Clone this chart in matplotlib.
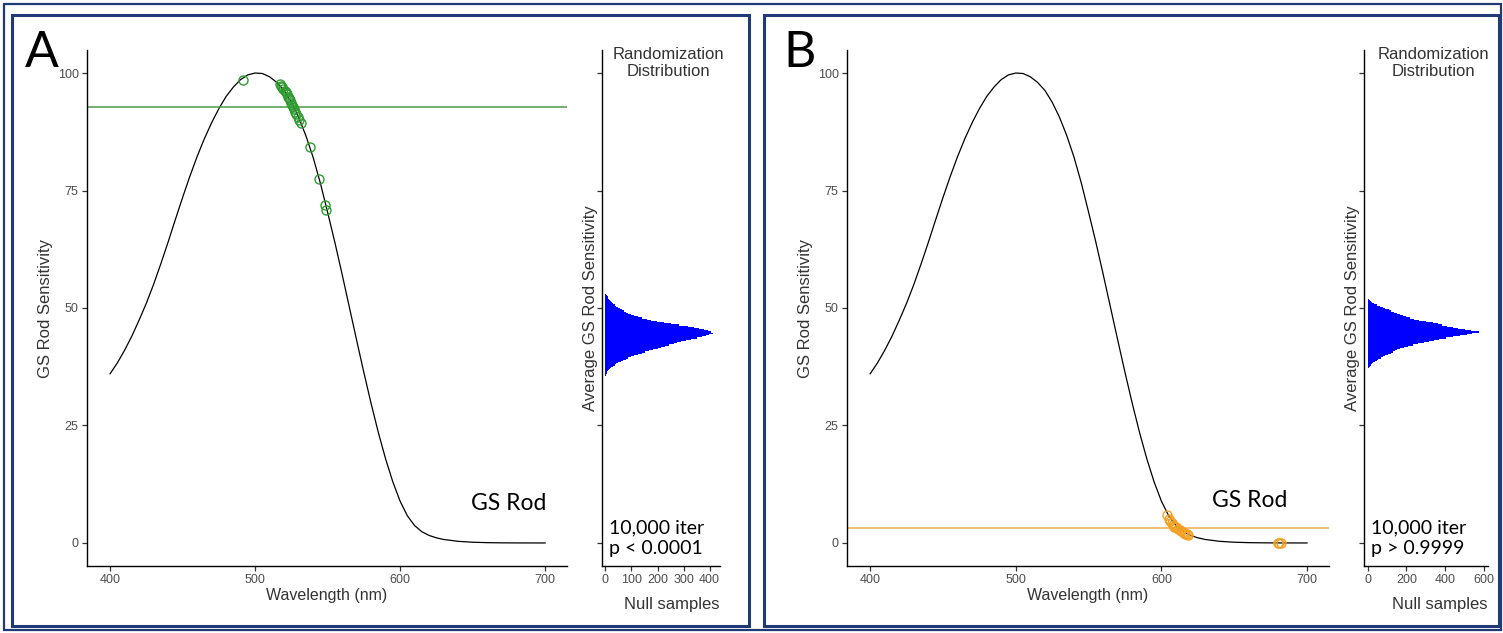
import numpy as np
import matplotlib
matplotlib.use("Agg")
import matplotlib.pyplot as plt
from matplotlib.patches import Rectangle

plt.rcParams['font.family'] = ['Liberation Sans', 'DejaVu Sans']

# rod sensitivity curve (5 nm steps)
wavelength = [400, 405, 410, 415, 420, 425, 430, 435, 440, 445, 450, 455, 460, 465,
              470, 475, 480, 485, 490, 495, 500, 505, 510, 515, 520, 525, 530, 535,
              540, 545, 550, 555, 560, 565, 570, 575, 580, 585, 590, 595, 600, 605,
              610, 615, 620, 625, 630, 640, 650, 660, 670, 680, 690, 700]
sensitivity = [36.0, 38.3, 41.0, 44.0, 47.4, 51.0, 55.0, 59.4, 64.0, 68.8, 73.5, 78.0,
               82.2, 86.0, 89.4, 92.4, 95.0, 97.0, 98.6, 99.6, 100.0, 99.9, 99.2, 98.0,
               96.3, 93.8, 90.6, 86.7, 82.1, 76.6, 70.4, 64.0, 57.2, 50.2, 43.2, 36.3,
               29.7, 23.5, 17.9, 13.0, 8.9, 5.8, 3.7, 2.4, 1.6, 1.1, 0.75, 0.35, 0.16,
               0.07, 0.03, 0.01, 0.005, 0.0]

# panel A observed species
obsA_wl = [491.5, 517.0, 518.0, 518.8, 519.5, 520.3, 521.0, 521.8, 522.5, 523.2, 524.0,
           524.8, 525.5, 526.3, 527.0, 527.8, 528.5, 529.5, 530.5, 531.5, 538.0, 544.0,
           548.3, 549.2]
obsA_sens = [98.5, 97.6, 97.3, 97.0, 96.6, 96.2, 95.9, 95.5, 95.0, 94.6, 94.2, 93.7,
             93.3, 92.7, 92.3, 91.7, 91.3, 90.6, 90.0, 89.3, 84.3, 77.4, 72.0, 70.9]
meanA = 92.8

# panel B observed species
obsB_wl = [603.8, 605.0, 606.0, 607.0, 608.0, 609.0, 610.0, 611.5, 612.5, 613.5, 614.5,
           615.5, 616.5, 617.5, 618.5, 680.0, 681.0, 682.0]
obsB_sens = [5.9, 5.2, 4.6, 4.2, 3.9, 3.5, 3.3, 2.9, 2.7, 2.5, 2.3, 2.2, 2.0, 1.9, 1.8,
             0.02, 0.02, 0.02]
meanB = 3.1

# randomization distributions (bin width 0.25)
bin_width = 0.25
histA_start = 35.5
histA_counts = [2, 3, 5, 6, 9, 12, 16, 22, 28, 36, 42, 50, 58, 66, 78, 88, 97, 110, 124,
                140, 152, 168, 182, 200, 214, 230, 246, 262, 275, 292, 308, 330, 350, 372,
                386, 398, 412, 404, 392, 378, 360, 342, 318, 282, 252, 226, 198, 176, 158,
                140, 124, 110, 98, 88, 78, 70, 62, 55, 48, 42, 36, 30, 25, 20, 16, 13, 10,
                8, 6, 4]
histB_start = 37.0
histB_counts = [3, 6, 10, 16, 22, 30, 37, 46, 56, 67, 80, 92, 104, 118, 130, 142, 152, 168,
                186, 210, 236, 262, 288, 316, 340, 368, 404, 442, 478, 512, 538, 576, 530,
                500, 468, 440, 410, 384, 362, 336, 300, 266, 240, 218, 196, 184, 168, 150,
                136, 122, 110, 92, 78, 62, 46, 34, 24, 16, 10, 5]

W, H = 1503, 633
navy = '#1F3A74'
fig = plt.figure(figsize=(W / 100, H / 100), dpi=100)


def box(l, t, r, b):
    return [l / W, 1 - b / H, (r - l) / W, (b - t) / H]


def style(ax):
    ax.spines['top'].set_visible(False)
    ax.spines['right'].set_visible(False)
    for s in ['left', 'bottom']:
        ax.spines[s].set_linewidth(1.0)
        ax.spines[s].set_color('black')
    ax.tick_params(length=3.5, width=0.9, color='#333333', labelcolor='#4D4D4D',
                   labelsize=9, pad=2.5)
    ax.set_ylim(-4.9, 104.9)
    ax.set_yticks([0, 25, 50, 75, 100])


def main_panel(ax, obs_wl, obs_sens, mean_val, col_pt, col_line):
    style(ax)
    ax.plot(wavelength, sensitivity, color='black', lw=0.9)
    ax.axhline(mean_val, color=col_line, lw=1.1)
    ax.plot(obs_wl, obs_sens, 'o', mfc='none', mec=col_pt, mew=1.0, ms=6.5)
    ax.set_xlim(384.1, 715.1)
    ax.set_xticks([400, 500, 600, 700])
    ax.set_xlabel('Wavelength (nm)', fontsize=11.5, color='#333333')
    ax.set_ylabel('GS Rod Sensitivity', fontsize=12, color='#333333')
    ax.xaxis.set_label_coords(0.5, -0.043)
    ax.yaxis.set_label_coords(-0.071, 0.5)


def hist_panel(ax, start, counts, xmax, xticks, p_text):
    style(ax)
    edges = start + bin_width * np.arange(len(counts) + 1)
    ax.stairs(counts, edges, orientation='horizontal', fill=True, color='#0000FF')
    ax.set_xlim(-xmax * 0.03, xmax)
    ax.set_xticks(xticks)
    ax.set_yticklabels([])
    ax.set_ylabel('Average GS Rod Sensitivity', fontsize=12, color='#333333')
    ax.yaxis.set_label_coords(-0.035, 0.5)
    ax.text(1.0, -0.06, 'Null samples', transform=ax.transAxes, ha='right', va='top',
            fontsize=12, color='#333333')
    ax.text(0.56, 1.006, 'Randomization\nDistribution', transform=ax.transAxes,
            ha='center', va='top', fontsize=12, color='#333333', linespacing=1.15)
    ax.text(0.06, 0.064, '10,000 iter', transform=ax.transAxes, ha='left',
            va='baseline', fontsize=14, family=['Lato', 'DejaVu Sans'], color='black')
    ax.text(0.06, 0.024, p_text, transform=ax.transAxes, ha='left',
            va='baseline', fontsize=14, family=['Lato', 'DejaVu Sans'], color='black')


axA = fig.add_axes(box(87, 50, 567, 566))
hA = fig.add_axes(box(602, 50, 720, 566))
axB = fig.add_axes(box(847, 50, 1329, 566))
hB = fig.add_axes(box(1364, 50, 1488, 566))

main_panel(axA, obsA_wl, obsA_sens, meanA, '#2E9B2E', '#4C9A4C')
main_panel(axB, obsB_wl, obsB_sens, meanB, '#F5A020', '#E3B04B')
hist_panel(hA, histA_start, histA_counts, 440, [0, 100, 200, 300, 400], 'p < 0.0001')
hist_panel(hB, histB_start, histB_counts, 620, [0, 200, 400, 600], 'p > 0.9999')

fig.text(471 / W, 1 - 510 / H, 'GS Rod', fontsize=16.5, family=['Lato', 'DejaVu Sans'],
         va='baseline')
fig.text(1212 / W, 1 - 507 / H, 'GS Rod', fontsize=16.5, family=['Lato', 'DejaVu Sans'],
         va='baseline')
fig.text(25 / W, 1 - 67 / H, 'A', fontsize=36, family=['Lato', 'DejaVu Sans'], va='baseline')
fig.text(783 / W, 1 - 67 / H, 'B', fontsize=36, family=['Lato', 'DejaVu Sans'], va='baseline')

# frames
fig.add_artist(Rectangle((4 / W, 1 - 630 / H), 1497 / W, 626 / H, transform=fig.transFigure,
                         fill=False, ec=navy, lw=1.6))
fig.add_artist(Rectangle((11.5 / W, 1 - 626 / H), 737.5 / W, 611.5 / H,
                         transform=fig.transFigure, fill=False, ec=navy, lw=2.2))
fig.add_artist(Rectangle((763.5 / W, 1 - 626 / H), 735.5 / W, 611.5 / H,
                         transform=fig.transFigure, fill=False, ec=navy, lw=2.2))

fig.savefig('out.png', dpi=100)
